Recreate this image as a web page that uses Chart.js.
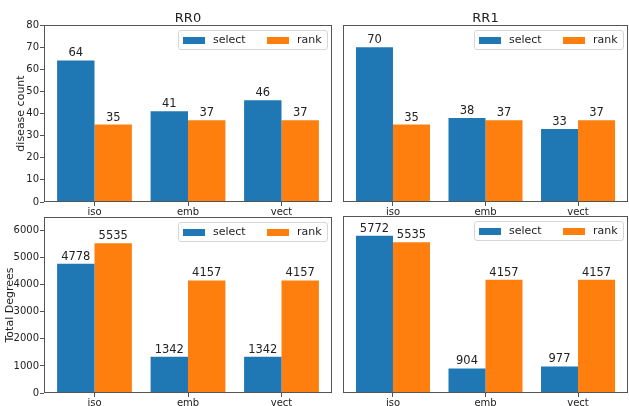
<!DOCTYPE html>
<html>
<head>
<meta charset="utf-8">
<script src="https://cdn.jsdelivr.net/npm/chart.js@4.4.0/dist/chart.umd.min.js"></script>
<style>
  html, body { margin: 0; padding: 0; background: #fff; }
  #fig { position: relative; width: 629px; height: 406px; overflow: hidden; background: #fff; }
  .panel { position: absolute; }
  .panel canvas { display: block; }
</style>
</head>
<body>
<div id="fig">
  <div class="panel" style="left:0;top:0;"><canvas id="c0" width="336" height="216"></canvas></div>
  <div class="panel" style="left:336px;top:0;"><canvas id="c1" width="293" height="216"></canvas></div>
  <div class="panel" style="left:0;top:210px;"><canvas id="c2" width="336" height="196"></canvas></div>
  <div class="panel" style="left:336px;top:210px;"><canvas id="c3" width="293" height="196"></canvas></div>
</div>
<script>
// Categories and series names
const categories = ['iso', 'emb', 'vect'];
const seriesNames = ['select', 'rank'];

// Disease counts
const rr0CountSelect = [64, 41, 46];
const rr0CountRank   = [35, 37, 37];
const rr1CountSelect = [70, 38, 33];
const rr1CountRank   = [35, 37, 37];

// Total degrees
const rr0DegreeSelect = [4778, 1342, 1342];
const rr0DegreeRank   = [5535, 4157, 4157];
const rr1DegreeSelect = [5772, 904, 977];
const rr1DegreeRank   = [5535, 4157, 4157];

// Axis ticks and titles
const countTicks  = [0, 10, 20, 30, 40, 50, 60, 70, 80];
const degreeTicks = [0, 1000, 2000, 3000, 4000, 5000, 6000];
const panelTitles = ['RR0', 'RR1'];

const BLUE = '#1f77b4';
const ORANGE = '#ff7f0e';
const TEXT = '#222';
const FONT = 'DejaVu Sans';

Chart.defaults.font.family = FONT;
Chart.defaults.color = TEXT;

// Axes frame, panel title, bar value labels and an inset legend
const panelDecor = {
  id: 'panelDecor',
  afterDatasetsDraw(chart, args, opts) {
    const ctx = chart.ctx;
    const a = chart.chartArea;
    ctx.save();
    // value labels
    ctx.font = '11.5px ' + FONT;
    ctx.fillStyle = TEXT;
    ctx.textAlign = 'center';
    ctx.textBaseline = 'alphabetic';
    chart.data.datasets.forEach((ds, di) => {
      const meta = chart.getDatasetMeta(di);
      meta.data.forEach((bar, i) => {
        ctx.fillText(String(ds.data[i].y), bar.x, bar.y - 4);
      });
    });
    // frame
    ctx.strokeStyle = '#555';
    ctx.lineWidth = 1;
    ctx.strokeRect(Math.round(a.left) + 0.5, Math.round(a.top) + 0.5,
                   Math.round(a.right - a.left) - 1, Math.round(a.bottom - a.top) - 1);
    // title
    if (opts.title) {
      ctx.font = '13px ' + FONT;
      ctx.textAlign = 'center';
      ctx.textBaseline = 'alphabetic';
      ctx.fillText(opts.title, (a.left + a.right) / 2, a.top - 3);
    }
    // legend
    const bw = 149, bh = 19;
    const bx = a.right - 5 - bw, by = a.top + 5;
    ctx.beginPath();
    ctx.roundRect(bx + 0.5, by + 0.5, bw, bh, 2.5);
    ctx.fillStyle = 'rgba(255,255,255,0.8)';
    ctx.fill();
    ctx.strokeStyle = '#d6d6d6';
    ctx.stroke();
    ctx.font = '11px ' + FONT;
    ctx.textAlign = 'left';
    ctx.textBaseline = 'middle';
    const offsets = [5, 89];
    chart.data.datasets.forEach((ds, di) => {
      const hx = bx + offsets[di];
      ctx.fillStyle = ds.backgroundColor;
      ctx.fillRect(hx, by + 7, 22, 7);
      ctx.fillStyle = TEXT;
      ctx.fillText(ds.label, hx + 30, by + 10.5);
    });
    ctx.restore();
  }
};

function makePanel(id, opt) {
  const datasets = [
    { label: seriesNames[0], backgroundColor: BLUE,
      data: opt.select.map((v, i) => ({ x: i, y: v })) },
    { label: seriesNames[1], backgroundColor: ORANGE,
      data: opt.rank.map((v, i) => ({ x: i, y: v })) }
  ];
  return new Chart(document.getElementById(id), {
    type: 'bar',
    data: { datasets },
    options: {
      responsive: false,
      animation: false,
      events: [],
      categoryPercentage: 0.8,
      barPercentage: 1.0,
      borderWidth: 0,
      layout: { padding: opt.padding },
      plugins: {
        legend: { display: false },
        tooltip: { enabled: false },
        panelDecor: { title: opt.title }
      },
      scales: {
        x: {
          type: 'linear',
          min: -0.54,
          max: 2.54,
          offset: false,
          border: { display: false },
          grid: { display: true, drawOnChartArea: false, drawTicks: true, tickLength: 4,
                  color: '#555', offset: false },
          afterBuildTicks: s => { s.ticks = categories.map((c, i) => ({ value: i })); },
          afterFit: s => { s.height = opt.xHeight; },
          ticks: {
            autoSkip: false, maxRotation: 0, padding: 0,
            font: { size: 10 }, color: TEXT,
            callback: v => categories[v]
          }
        },
        y: {
          min: 0,
          max: opt.yMax,
          border: { display: false },
          grid: { display: opt.showY, drawOnChartArea: false, drawTicks: true, tickLength: 4,
                  color: '#555' },
          afterBuildTicks: s => { s.ticks = opt.yTicks.map(v => ({ value: v })); },
          afterFit: s => { s.width = opt.yWidth; },
          ticks: { display: opt.showY, padding: 1, font: { size: 10 }, color: TEXT,
                   callback: v => String(v) },
          title: {
            display: !!opt.yTitle,
            text: opt.yTitle || '',
            font: { size: 11 },
            color: TEXT,
            padding: { top: opt.yTitlePad || 0, bottom: 0 }
          }
        }
      }
    },
    plugins: [panelDecor]
  });
}

makePanel('c0', {
  title: panelTitles[0], select: rr0CountSelect, rank: rr0CountRank,
  yMax: 80, yTicks: countTicks, showY: true, yTitle: 'disease count', yTitlePad: 14.6,
  yWidth: 44, xHeight: 14, padding: { top: 25, right: 4, left: 0, bottom: 0 }
});
makePanel('c1', {
  title: panelTitles[1], select: rr1CountSelect, rank: rr1CountRank,
  yMax: 80, yTicks: countTicks, showY: false,
  yWidth: 7, xHeight: 14, padding: { top: 25, right: 1, left: 0, bottom: 0 }
});
makePanel('c2', {
  title: '', select: rr0DegreeSelect, rank: rr0DegreeRank,
  yMax: 6500, yTicks: degreeTicks, showY: true, yTitle: 'Total Degrees', yTitlePad: 3.4,
  yWidth: 44, xHeight: 13, padding: { top: 6, right: 4, left: 0, bottom: 0 }
});
makePanel('c3', {
  title: '', select: rr1DegreeSelect, rank: rr1DegreeRank,
  yMax: 6500, yTicks: degreeTicks, showY: false,
  yWidth: 7, xHeight: 13, padding: { top: 6, right: 1, left: 0, bottom: 0 }
});
</script>
</body>
</html>
